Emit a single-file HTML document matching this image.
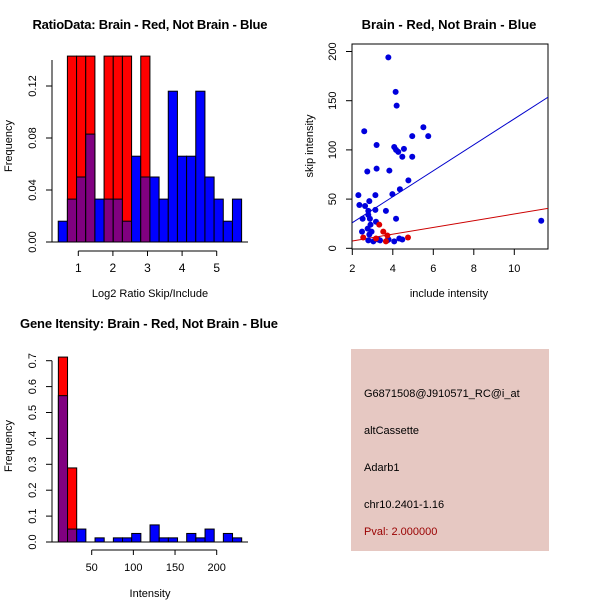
<!DOCTYPE html>
<html><head><meta charset="utf-8"><style>
body{margin:0;background:#fff}
svg{display:block;font-family:"Liberation Sans",sans-serif}
</style></head><body>
<svg id="c" width="600" height="600" xmlns="http://www.w3.org/2000/svg"></svg>
<script>
// ---- Panel 1: ratio histogram ----
const ratioBlue = [0.016,0.033,0.05,0.083,0.033,0.033,0.033,0.016,0.066,0.05,0.05,0.033,0.116,0.066,0.066,0.116,0.05,0.033,0.016,0.033];
const ratioRed  = [0,0.143,0.143,0.143,0,0.143,0.143,0.143,0,0.143,0,0,0,0,0,0,0,0,0,0];
const ratioYTicks = [0,0.04,0.08,0.12];
const ratioYLabels = ["0.00","0.04","0.08","0.12"];
const ratioXTicks = [1,2,3,4,5];
// ---- Panel 2: scatter ----
const blueX = [3.78,4.14,4.19,2.59,5.51,5.75,4.96,3.2,4.07,4.16,4.27,4.55,4.47,4.96,3.2,2.74,3.83,4.77,4.35,3.98,2.3,3.14,2.35,2.84,2.63,3.14,2.79,3.66,2.51,2.79,2.87,4.16,3.17,2.9,2.76,2.95,2.48,2.84,2.79,3.04,3.37,3.73,4.07,4.32,4.47,11.33,3.27,3.79];
const blueY = [194,159,145,119,123,114,114,105,103,100,98,101,93,93,81,78,79,69,60,55,54,54,44,48,43,39,38,38,30,34,30,30,27,24,20,17,17,14,8,7,8,8,7,10,9,28,9,9];
const redX = [2.54,3.33,3.53,3.73,3.66,4.75,3.17];
const redY = [11,24,17,13,7,11,10];
const blueFit = [-0.4,13.2];
const redFit = [0.6,3.43];
const scXTicks = [2,4,6,8,10];
const scYTicks = [0,50,100,150,200];
// ---- Panel 3: intensity histogram ----
const intBlue = [0.565,0.05,0.05,0,0.016,0,0.016,0.016,0.033,0,0.066,0.016,0.016,0,0.033,0.016,0.05,0,0.033,0.016];
const intRed  = [0.714,0.286,0,0,0,0,0,0,0,0,0,0,0,0,0,0,0,0,0,0];
const intYTicks = [0,0.1,0.2,0.3,0.4,0.5,0.6,0.7];
const intXTicks = [50,100,150,200];

const svg = document.getElementById('c');
const NS = 'http://www.w3.org/2000/svg';
function el(tag, attrs, parent){const e=document.createElementNS(NS,tag);for(const k in attrs)e.setAttribute(k,attrs[k]);(parent||svg).appendChild(e);return e;}
function txt(s,x,y,opts,parent){const t=el('text',Object.assign({x:x,y:y,'font-size':12,'text-anchor':'middle',fill:'#000'},opts||{}),parent);t.textContent=s;return t;}

function hist(g, blue, red, x0, bw, xs, ys){
  for(let i=0;i<blue.length;i++){
    const xa=xs(x0+i*bw), xb=xs(x0+(i+1)*bw);
    if(red[i]>0){
      const r=el('rect',{x:xa,y:ys(red[i]),width:xb-xa,height:ys(0)-ys(red[i]),fill:'#ff0000',stroke:'#000','stroke-width':1},g);
      
      
    }
    if(blue[i]>0){
      const ov=red[i]>0;
      const b=el('rect',{x:xa,y:ys(blue[i]),width:xb-xa,height:ys(0)-ys(blue[i]),fill:ov?'#800080':'#0000ff',stroke:'#000','stroke-width':1},g);
      
      
    }
  }
}

// Panel 1
(function(){
  const g=el('g',{});
  
  
  const xs=v=>78.3+(v-1)*34.6, ys=v=>242-v*1300;
  hist(g, ratioBlue, ratioRed, 0.42, 0.265, xs, ys);
  el('line',{x1:52,y1:ys(0),x2:52,y2:ys(0.14),stroke:'#000'},g);
  ratioYTicks.forEach((v,i)=>{el('line',{x1:46,x2:52,y1:ys(v),y2:ys(v),stroke:'#000'},g);
    txt(ratioYLabels[i],40,ys(v)-4,{transform:`rotate(-90 40 ${ys(v)})`,'font-size':11},g);});
  el('line',{x1:52,y1:ys(0),x2:248,y2:ys(0),stroke:'#000'},g);
  el('line',{x1:xs(1),y1:251,x2:xs(5),y2:251,stroke:'#000'},g);
  ratioXTicks.forEach(v=>{el('line',{x1:xs(v),x2:xs(v),y1:251,y2:256,stroke:'#000'},g);txt(String(v),xs(v),272,{},g);});
  txt('Log2 Ratio Skip/Include',150,297,{'font-size':11},g);
  txt('Frequency',12,146,{transform:'rotate(-90 12 146)','font-size':11},g);
  const t=txt('RatioData: Brain - Red, Not Brain - Blue',150,29,{'font-weight':'bold','font-size':13,textLength:235},g);
  
})();

// Panel 2
(function(){
  const g=el('g',{});
  
  
  const xs=v=>352.3+(v-2)*20.25, ys=v=>248.3-v*0.984;
  el('rect',{x:352,y:44,width:196,height:205,fill:'none',stroke:'#000'},g);
  scYTicks.forEach(v=>{el('line',{x1:346,x2:352,y1:ys(v),y2:ys(v),stroke:'#000'},g);
    txt(String(v),340,ys(v)-4,{transform:`rotate(-90 340 ${ys(v)})`,'font-size':11},g);});
  scXTicks.forEach(v=>{el('line',{x1:xs(v),x2:xs(v),y1:249,y2:255,stroke:'#000'},g);txt(String(v),xs(v),272,{'font-size':11},g);});
  const cx=el('clipPath',{id:'scclip'},g);el('rect',{x:352,y:44,width:196,height:205},cx);
  const xa=2, xb=11.68;
  const bl=el('line',{x1:xs(xa),y1:ys(blueFit[0]+blueFit[1]*xa),x2:xs(xb),y2:ys(blueFit[0]+blueFit[1]*xb),stroke:'#0000cc','clip-path':'url(#scclip)'},g);
  
  
  const rl=el('line',{x1:xs(xa),y1:ys(redFit[0]+redFit[1]*xa),x2:xs(xb),y2:ys(redFit[0]+redFit[1]*xb),stroke:'#cc0000','clip-path':'url(#scclip)'},g);
  
  
  blueX.forEach((x,i)=>{const p=el('circle',{cx:xs(x),cy:ys(blueY[i]),r:3,fill:'#0000dd'},g);
    
    });
  redX.forEach((x,i)=>{const p=el('circle',{cx:xs(x),cy:ys(redY[i]),r:3,fill:'#dd0000'},g);
    
    });
  txt('include intensity',449,297,{'font-size':11},g);
  txt('skip intensity',313,146,{transform:'rotate(-90 313 146)','font-size':11},g);
  txt('Brain - Red, Not Brain - Blue',449,29,{'font-weight':'bold','font-size':13},g);
})();

// Panel 3
(function(){
  const g=el('g',{});
  
  
  const xs=v=>91.7+(v-50)*0.8333, ys=v=>542-v*259;
  hist(g, intBlue, intRed, 10, 11, xs, ys);
  el('line',{x1:52,y1:ys(0),x2:52,y2:ys(0.7),stroke:'#000'},g);
  intYTicks.forEach(v=>{el('line',{x1:46,x2:52,y1:ys(v),y2:ys(v),stroke:'#000'},g);
    txt(v===0?'0.0':String(v),40,ys(v)-4,{transform:`rotate(-90 40 ${ys(v)})`,'font-size':11},g);});
  el('line',{x1:52,y1:ys(0),x2:248,y2:ys(0),stroke:'#000'},g);
  el('line',{x1:xs(50),y1:550,x2:xs(200),y2:550,stroke:'#000'},g);
  intXTicks.forEach(v=>{el('line',{x1:xs(v),x2:xs(v),y1:550,y2:555,stroke:'#000'},g);txt(String(v),xs(v),571,{'font-size':11},g);});
  txt('Intensity',150,597,{'font-size':11},g);
  txt('Frequency',12,446,{transform:'rotate(-90 12 446)','font-size':11},g);
  txt('Gene Itensity: Brain - Red, Not Brain - Blue',149,328,{'font-weight':'bold','font-size':13,textLength:258},g);
})();

// Panel 4
(function(){
  const g=el('g',{});
  
  
  el('rect',{x:351,y:349,width:198,height:202,fill:'#e6c8c2'},g);
  const lines=[['G6871508@J910571_RC@i_at',397,'#000','probe-id'],['altCassette',434,'#000','event-type'],['Adarb1',471,'#000','gene-name'],['chr10.2401-1.16',508,'#000','location'],['Pval: 2.000000',535,'#990000','p-value']];
  lines.forEach(l=>{const t=txt(l[0],364,l[1],{'text-anchor':'start','font-size':11,fill:l[2]},g);
    });
})();
</script>
</body></html>
